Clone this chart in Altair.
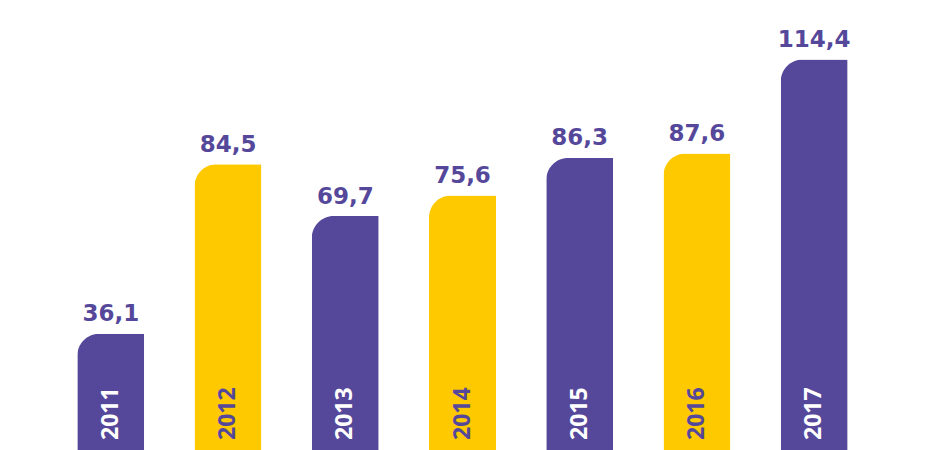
import altair as alt
import pandas as pd

years = ["2011", "2012", "2013", "2014", "2015", "2016", "2017"]
values = [36.1, 84.5, 69.7, 75.6, 86.3, 87.6, 114.4]
groups = ["a", "b", "a", "b", "a", "b", "a"]

PURPLE = "#55489B"
YELLOW = "#FFC900"

df = pd.DataFrame({
    "year": years,
    "value": values,
    "group": groups,
    "label": [f"{v:.1f}".replace(".", ",") for v in values],
})

H = 452
x = alt.X("year:N", axis=None, sort=years,
          scale=alt.Scale(paddingInner=0.4286, paddingOuter=0.591))
yscale = alt.Scale(domain=[0, H / 3.5], nice=False, zero=True)

base = alt.Chart(df)

bars = base.mark_bar(cornerRadiusTopLeft=22).encode(
    x=x,
    y=alt.Y("value:Q", axis=None, scale=yscale),
    color=alt.Color("group:N", scale=alt.Scale(domain=["a", "b"], range=[PURPLE, YELLOW]), legend=None),
)

value_labels = base.mark_text(
    font="DejaVu Sans", fontWeight="bold", fontSize=23, baseline="alphabetic",
    align="center", dy=-12.5, color=PURPLE,
).encode(
    x=x,
    y=alt.Y("value:Q", axis=None, scale=yscale),
    text="label:N",
)

year_labels = base.mark_text(
    font="Open Sans", fontWeight="bold", fontSize=23, baseline="middle",
    align="left", angle=270, dx=20,
).encode(
    x=x,
    y=alt.datum(0, scale=yscale) if False else alt.Y("zero:Q", axis=None, scale=yscale),
    text="year:N",
    color=alt.Color("group:N", scale=alt.Scale(domain=["a", "b"], range=["#FFFFFF", PURPLE]), legend=None),
).transform_calculate(zero="0")

chart = alt.layer(bars, value_labels, year_labels).resolve_scale(color="independent").properties(
    width=909, height=H, padding=0, autosize=alt.AutoSizeParams(type="none"), background="white",
).configure_view(stroke=None)

chart.save("out.html", embed_options={"renderer": "svg", "actions": False})
